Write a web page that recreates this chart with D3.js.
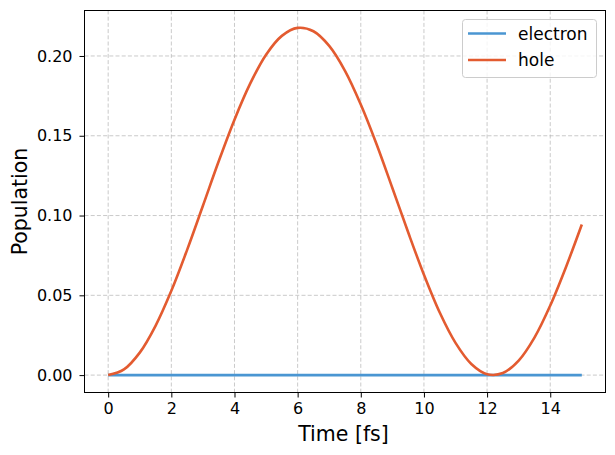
<!DOCTYPE html>
<html lang="en">
<head>
<meta charset="UTF-8">
<title>Population vs time</title>
<script src="https://d3js.org/d3.v7.min.js"></script>
<style>
  body { margin: 0; background: #fff; }
  text { font-family: "DejaVu Sans", sans-serif; fill: #000; }
</style>
</head>
<body>
<svg width="615" height="455"></svg>
<script>
// values, every 0.5 fs
const time = [0, 0.5, 1, 1.5, 2, 2.5, 3, 3.5, 4, 4.5, 5, 5.5, 6, 6.5, 7, 7.5,
              8, 8.5, 9, 9.5, 10, 10.5, 11, 11.5, 12, 12.5, 13, 13.5, 14, 14.5, 15];
const hole = [0, 0.0036, 0.0141, 0.0309, 0.0528, 0.0785, 0.1061, 0.1340, 0.1601,
              0.1828, 0.2008, 0.2126, 0.2176, 0.2155, 0.2063, 0.1907, 0.1696,
              0.1447, 0.1173, 0.0895, 0.0629, 0.0392, 0.0202, 0.0070, 0.0006,
              0.0013, 0.0091, 0.0235, 0.0436, 0.0678, 0.0944];
const electron = time.map(() => 0);
const xTicks = [0, 2, 4, 6, 8, 10, 12, 14];
const yTicks = [0, 0.05, 0.10, 0.15, 0.20];
const seriesNames = ["electron", "hole"];
const seriesColors = ["#4a96d2", "#e35b30"];

const svg = d3.select("svg");
const mLeft = 84.5, mRight = 605.5, mTop = 10.5, mBottom = 392.5;

const x = d3.scaleLinear().domain([-0.75, 15.75]).range([mLeft, mRight]);
const y = d3.scaleLinear().domain([-0.0109, 0.2285]).range([mBottom, mTop]);

// grid
const grid = svg.append("g").attr("stroke", "#b0b0b0").attr("stroke-opacity", 0.75)
    .attr("stroke-width", 0.9).attr("stroke-dasharray", "4,2.2");
grid.selectAll(".gx").data(xTicks).join("line")
    .attr("x1", d => x(d)).attr("x2", d => x(d)).attr("y1", mTop).attr("y2", mBottom);
grid.selectAll(".gy").data(yTicks).join("line")
    .attr("y1", d => y(d)).attr("y2", d => y(d)).attr("x1", mLeft).attr("x2", mRight);

// lines
const line = d3.line().x((d, i) => x(time[i])).y(d => y(d)).curve(d3.curveCatmullRom.alpha(0.5));
[electron, hole].forEach((s, k) => {
    svg.append("path").datum(s)
        .attr("d", line)
        .attr("fill", "none")
        .attr("stroke", seriesColors[k])
        .attr("stroke-width", 2.6)
        .attr("stroke-linejoin", "round");
});

// axes
const xAxis = svg.append("g").attr("transform", `translate(0,${mBottom})`)
    .call(d3.axisBottom(x).tickValues(xTicks).tickSize(5).tickPadding(5).tickFormat(d3.format("d")));
const yAxis = svg.append("g").attr("transform", `translate(${mLeft},0)`)
    .call(d3.axisLeft(y).tickValues(yTicks).tickSize(5).tickPadding(7).tickFormat(d3.format(".2f")));
[xAxis, yAxis].forEach(a => {
    a.select(".domain").remove();
    a.selectAll(".tick line").attr("stroke", "#000").attr("stroke-width", 1);
    a.selectAll(".tick text").attr("font-size", 16).attr("font-family", "DejaVu Sans, sans-serif").attr("fill", "#000");
});
svg.append("rect").attr("x", mLeft).attr("y", mTop).attr("width", mRight - mLeft).attr("height", mBottom - mTop)
    .attr("fill", "none").attr("stroke", "#000").attr("stroke-width", 1);

svg.append("text").attr("x", 343.5).attr("y", 440.5)
    .attr("text-anchor", "middle").attr("font-size", 20.5).text("Time [fs]");
svg.append("text").attr("transform", `translate(26.5,${(mTop + mBottom) / 2}) rotate(-90)`)
    .attr("text-anchor", "middle").attr("font-size", 20.5).text("Population");

// legend
const lg = svg.append("g");
lg.append("rect").attr("x", 462.5).attr("y", 19.5).attr("width", 134).attr("height", 58).attr("rx", 3)
    .attr("fill", "#fff").attr("fill-opacity", 0.8).attr("stroke", "#cccccc").attr("stroke-width", 1);
seriesNames.forEach((n, i) => {
    const yy = 33.5 + i * 26.5;
    lg.append("line").attr("x1", 468).attr("x2", 506).attr("y1", yy).attr("y2", yy)
        .attr("stroke", seriesColors[i]).attr("stroke-width", 2.6);
    lg.append("text").attr("x", 518).attr("y", yy + 6).attr("font-size", 17).text(n);
});
</script>
</body>
</html>
